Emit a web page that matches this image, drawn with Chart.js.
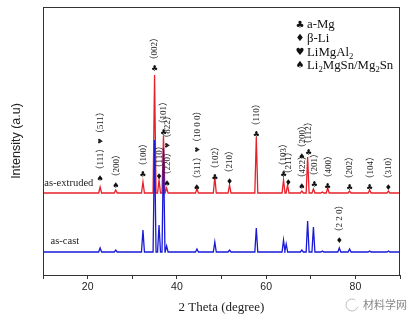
<!DOCTYPE html>
<html><head><meta charset="utf-8">
<script src="https://cdn.jsdelivr.net/npm/chart.js@4"></script>
<style>html,body{margin:0;padding:0;background:#fff}#wrap{width:420px;height:325px}</style>
</head><body><div id="wrap"><canvas id="c" width="420" height="325"></canvas></div>
<script>
// ---- data ----
const xTickLabels = [20, 40, 60, 80];
const extrudedTheta = [22.8, 26.3, 32.4, 35.0, 36.0, 37.0, 37.7, 44.5, 48.5, 51.8, 57.8, 63.9, 64.8, 68.0, 69.3, 70.6, 72.6, 73.8, 78.7, 83.2, 87.4];
const extrudedIntensity = [6, 3, 11, 118, 13, 57, 5, 4, 16, 8, 56, 13, 8, 2, 36, 4, 1, 5, 2, 3, 2];
const castTheta = [22.8, 26.3, 32.4, 35.0, 36.0, 37.0, 37.7, 44.5, 48.5, 51.8, 57.8, 63.9, 64.5, 68.0, 69.3, 70.6, 72.6, 76.4, 78.7, 83.2, 87.4];
const castIntensity = [4, 2, 22, 112, 27, 104, 6, 3, 10, 2, 24, 12, 8, 2, 31, 25, 1, 4, 3, 1, 1];
const seriesNames = ['as-extruded', 'as-cast'];
const seriesOffsets = [82, 23];
// peak labels: [2theta, level (intensity units), symbol, text]
const extrudedLabels = [
  [22.8, 96, '♠', '（111）♥（511）'],
  [26.3, 89, '♠', '（200）'],
  [32.4, 100, '♣', '（100）'],
  [35.0, 206, '♣', '（002）'],
  [36.0, 98, '♦', '（110）'],
  [37.0, 142, '♣', '（101）'],
  [37.8, 91, '♠', '（220）♥（822）'],
  [44.5, 87, '♠', '（311）♥（10 0 0）'],
  [48.5, 97, '♣', '（102）'],
  [51.8, 93, '♦', '（210）'],
  [57.8, 140, '♣', '（110）'],
  [63.9, 100, '♣', '（103）'],
  [65.0, 92, '♦', '（211）'],
  [68.0, 88, '♠', '（422）'],
  [68.0, 118, '♠', '（200）'],
  [69.5, 122, '♣', '（112）'],
  [70.8, 90, '♣', '（201）'],
  [73.8, 88, '♣', '（400）'],
  [78.7, 87, '♣', '（202）'],
  [83.2, 87, '♣', '（104）'],
  [87.4, 87, '♦', '（310）']
];
const castLabels = [
  [76.4, 34, '♦', '（2 2 0）']
];
const legendSymbols = ['♣', '♦', '♥', '♠'];
const legendNames = ['a-Mg', 'β-Li', 'LiMgAl_2', 'Li_2MgSn/Mg_2Sn'];

// ---- build line points from the peak lists ----
function buildPoints(theta, inten, off) {
  const pts = [{x: 10, y: off}];
  theta.forEach((p, i) => {
    pts.push({x: p - 0.33, y: off}, {x: p, y: off + inten[i]}, {x: p + 0.33, y: off});
  });
  pts.push({x: 90, y: off});
  return pts;
}

const SERIF = '"Liberation Serif", "Noto Sans CJK SC", serif';
const SANS = '"Liberation Sans", Arial, sans-serif';

function drawSubText(ctx, str, x, y, size) {
  let cx = x;
  for (let i = 0; i < str.length; i++) {
    let ch = str[i];
    if (ch === '_') {
      i++; ch = str[i];
      ctx.font = (size * 0.68) + 'px ' + SERIF;
      ctx.fillText(ch, cx, y + size * 0.32);
      cx += ctx.measureText(ch).width;
    } else {
      ctx.font = size + 'px ' + SERIF;
      ctx.fillText(ch, cx, y);
      cx += ctx.measureText(ch).width;
    }
  }
}

const overlay = {
  id: 'overlay',
  afterDatasetsDraw(chart) {
    const {ctx, chartArea: a, scales: {x: xs, y: ys}} = chart;
    ctx.save();
    // frame
    ctx.strokeStyle = '#333'; ctx.lineWidth = 1;
    ctx.strokeRect(Math.round(a.left) + 0.5, Math.round(a.top) + 0.5, Math.round(a.right - a.left) - 1, Math.round(a.bottom - a.top));
    // peak labels
    const drawLabels = (list) => list.forEach(([p, lvl, sym, txt]) => {
      const px = xs.getPixelForValue(p), py = ys.getPixelForValue(lvl);
      ctx.fillStyle = '#111';
      ctx.font = '8px "DejaVu Sans"';
      ctx.textAlign = 'center'; ctx.textBaseline = 'middle';
      ctx.fillText(sym, px, py);
      ctx.save();
      ctx.translate(px, py - 4.5);
      ctx.rotate(-Math.PI / 2);
      ctx.textAlign = 'left';
      ctx.font = '9px ' + SERIF;
      ctx.fillStyle = '#222';
      ctx.fillText(txt, 0, 0.5);
      ctx.restore();
    });
    drawLabels(extrudedLabels);
    drawLabels(castLabels);
    // series names
    ctx.fillStyle = '#222'; ctx.textAlign = 'left'; ctx.textBaseline = 'middle';
    ctx.font = '10.5px ' + SERIF;
    ctx.fillText(seriesNames[0], xs.getPixelForValue(10.3), ys.getPixelForValue(seriesOffsets[0] + 10));
    ctx.fillText(seriesNames[1], xs.getPixelForValue(11.7), ys.getPixelForValue(seriesOffsets[1] + 11));
    // legend
    const lx = xs.getPixelForValue(67.6);
    legendSymbols.forEach((s, i) => {
      const ly = ys.getPixelForValue(250 - i * 13.6);
      ctx.font = '10px "DejaVu Sans"'; ctx.textAlign = 'center';
      ctx.fillStyle = '#111';
      ctx.fillText(s, lx, ly);
      ctx.textAlign = 'left';
      drawSubText(ctx, legendNames[i], lx + 7, ly, 12.8);
    });
    ctx.restore();
  },
  afterDraw(chart) {
    const {ctx} = chart;
    ctx.save();
    ctx.strokeStyle = '#bbb'; ctx.lineWidth = 1;
    ctx.beginPath(); ctx.arc(352, 305, 6, 0.3, Math.PI * 1.7); ctx.stroke();
    ctx.fillStyle = '#888'; ctx.font = '11px "Noto Sans CJK SC"';
    ctx.textAlign = 'left'; ctx.textBaseline = 'middle';
    ctx.fillText('材料学网', 363, 305);
    ctx.restore();
  }
};

new Chart(document.getElementById('c'), {
  type: 'scatter',
  data: {
    datasets: [
      {label: seriesNames[1], data: buildPoints(castTheta, castIntensity, seriesOffsets[1]), showLine: true, borderColor: '#1a1ad6', borderWidth: 1.3, pointRadius: 0, tension: 0},
      {label: seriesNames[0], data: buildPoints(extrudedTheta, extrudedIntensity, seriesOffsets[0]), showLine: true, borderColor: '#e8202a', borderWidth: 1.3, pointRadius: 0, tension: 0}
    ]
  },
  options: {
    responsive: false, animation: false, devicePixelRatio: 1,
    layout: {padding: {left: 0, right: 20, top: 7, bottom: 0}},
    plugins: {legend: {display: false}, tooltip: {enabled: false}},
    scales: {
      x: {
        type: 'linear', min: 10, max: 90,
        ticks: {stepSize: 10, autoSkip: false, maxRotation: 0, padding: 2, color: '#222',
          font: {family: SANS, size: 10.5},
          callback: v => xTickLabels.includes(v) ? String(v) : ''},
        grid: {drawOnChartArea: false, drawTicks: true, tickLength: 4, color: '#333'},
        border: {color: '#333', width: 1},
        title: {display: true, text: '2 Theta (degree)', color: '#222', font: {family: SERIF, size: 13}, padding: {top: 0, bottom: 10}},
        afterFit: s => { s.height = 50; }
      },
      y: {
        min: 0, max: 268,
        ticks: {display: false},
        grid: {display: false},
        border: {color: '#333', width: 1},
        title: {display: true, text: 'Intensity (a.u)', color: '#222', font: {family: SANS, size: 12.5}, padding: {top: 9, bottom: 0}},
        afterFit: s => { s.width = 43; }
      }
    }
  },
  plugins: [overlay]
});
</script></body></html>
